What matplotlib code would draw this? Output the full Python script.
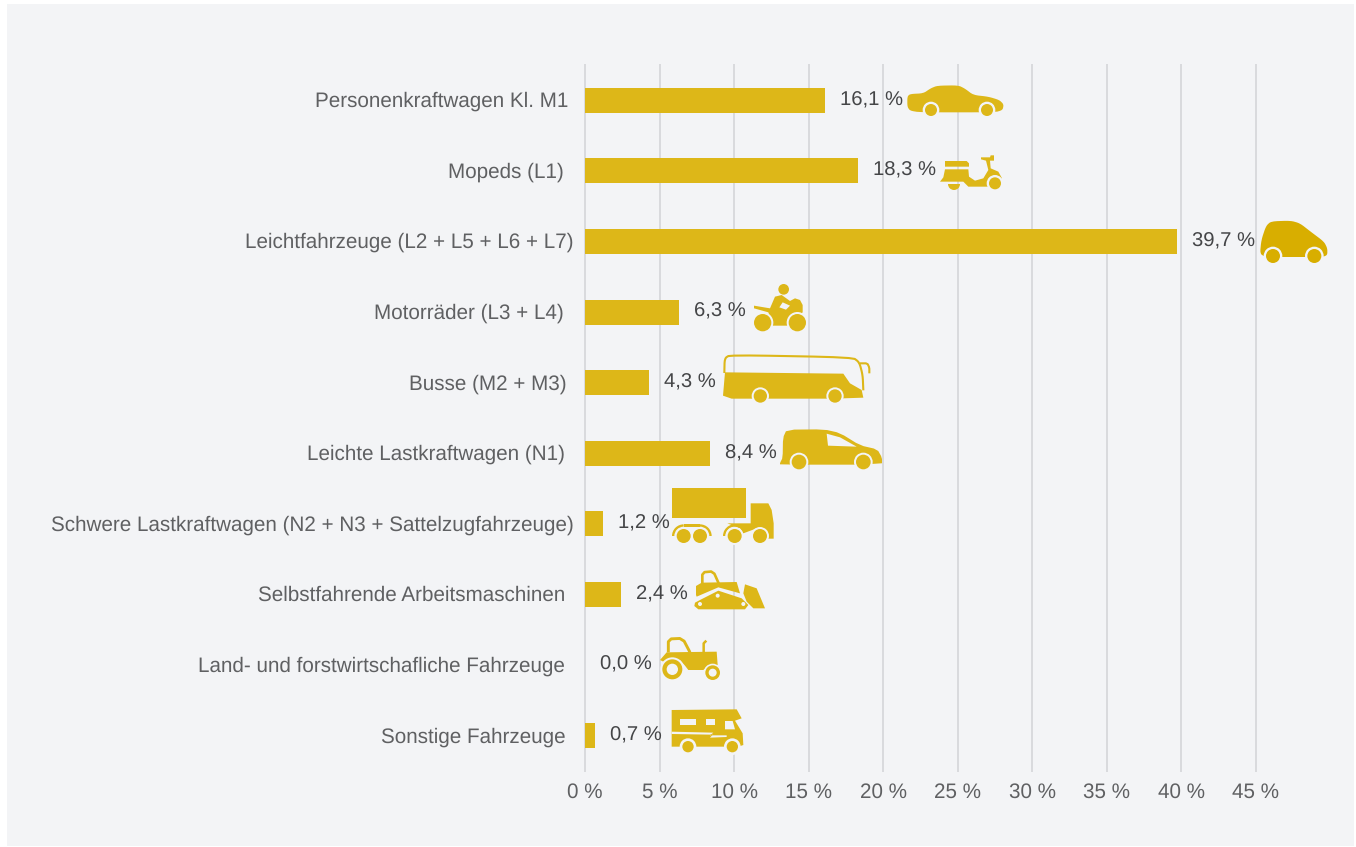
#!/usr/bin/env python3
"""Neuzulassungen: Anteil der Elektrofahrzeuge je Fahrzeugklasse, with vehicle icons."""

import matplotlib
matplotlib.use("Agg")
import matplotlib.pyplot as plt
from matplotlib.patches import Circle, Polygon, Rectangle, Wedge
from matplotlib.transforms import Affine2D

WIDTH, HEIGHT, DPI = 1356, 847, 100

CATEGORIES = [
    "Personenkraftwagen Kl. M1",
    "Mopeds (L1)",
    "Leichtfahrzeuge (L2 + L5 + L6 + L7)",
    "Motorräder (L3 + L4)",
    "Busse (M2 + M3)",
    "Leichte Lastkraftwagen (N1)",
    "Schwere Lastkraftwagen (N2 + N3 + Sattelzugfahrzeuge)",
    "Selbstfahrende Arbeitsmaschinen",
    "Land- und forstwirtschafliche Fahrzeuge",
    "Sonstige Fahrzeuge",
]
SHARES = [16.1, 18.3, 39.7, 6.3, 4.3, 8.4, 1.2, 2.4, 0.0, 0.7]
X_TICKS = [0, 5, 10, 15, 20, 25, 30, 35, 40, 45]
LABEL_GAPS_PX = [17, 21, 11, 21, 18, 20, 11, 20, 20, 19]

PANEL = "#F3F4F6"
GOLD = "#DDB718"
DARK_GOLD = "#D8AE00"
GRID = "#D9DADD"

plt.rcParams["font.family"] = ["Liberation Sans", "DejaVu Sans"]
plt.rcParams["text.hinting"] = "no_hinting"
FONT_PT = 14.85
VALUE_PT = 14.6


def px(v):
    return v * 72 / DPI


def rounded(pts, passes=2, closed=True):
    """Corner cutting, so the vehicle outlines do not look faceted."""
    for _ in range(passes):
        out = [] if closed else [pts[0]]
        count = len(pts) if closed else len(pts) - 1
        for i in range(count):
            x0, y0 = pts[i]
            x1, y1 = pts[(i + 1) % len(pts)]
            out.append((0.8 * x0 + 0.2 * x1, 0.8 * y0 + 0.2 * y1))
            out.append((0.2 * x0 + 0.8 * x1, 0.2 * y0 + 0.8 * y1))
        pts = out if closed else out + [pts[-1]]
    return pts


class Icon:
    """Draws shapes given in 3x crop coordinates relative to a screen origin."""

    def __init__(self, ax, ox, oy, color=GOLD):
        self.ax, self.ox, self.oy, self.color = ax, ox, oy, color

    def xy(self, x, y):
        return self.ox + x / 3, self.oy + y / 3

    def poly(self, pts, color=None, smooth=0):
        if smooth:
            pts = rounded(pts, smooth)
        self.ax.add_patch(Polygon([self.xy(*p) for p in pts], closed=True,
                                  fc=color or self.color, ec="none"))

    def line(self, pts, lw=1.5, smooth=0):
        if smooth:
            pts = rounded(pts, smooth, closed=False)
        xs, ys = zip(*[self.xy(*p) for p in pts])
        self.ax.plot(xs, ys, color=self.color, lw=lw, solid_capstyle="butt",
                     solid_joinstyle="round")

    def disc(self, x, y, r, color=None):
        self.ax.add_patch(Circle(self.xy(x, y), r / 3, fc=color or self.color, ec="none"))

    def wheel(self, x, y, r, ring):
        self.disc(x, y, ring, PANEL)
        self.disc(x, y, r)

    def half_wheel(self, x, y, r):
        self.ax.add_patch(Wedge(self.xy(x, y), r / 3, 0, 180, fc=self.color, ec="none"))

    def arc(self, x, y, r, width, t1, t2):
        # the overlay's y axis points down, so 180-270 is the upper left quarter
        self.ax.add_patch(Wedge(self.xy(x, y), r / 3, t1, t2, width=width / 3,
                                fc=self.color, ec="none"))


def draw_icons(ov):
    car = Icon(ov, 900, 70)
    car.poly([(22, 80), (30, 72), (70, 70), (92, 55), (112, 47), (175, 46), (195, 56),
              (220, 75), (265, 80), (298, 90), (311, 103), (308, 120), (285, 127),
              (60, 127), (30, 122), (22, 110)], smooth=2)
    car.wheel(93, 120, 18, 25)
    car.wheel(261, 120, 18, 25)

    moped = Icon(ov, 900, 70)
    moped.poly([(135, 273), (200, 273), (207, 280), (207, 290), (135, 290)])
    moped.poly([(135, 298), (205, 298), (207, 320), (225, 332), (250, 325), (265, 300),
                (258, 272), (243, 268), (243, 262), (270, 262), (272, 256), (282, 256),
                (282, 272), (270, 272), (272, 295), (295, 305), (306, 325), (265, 350),
                (205, 350), (190, 335), (120, 335), (130, 322)])
    moped.wheel(285, 340, 18, 25)
    moped.half_wheel(162, 342, 18)

    smart = Icon(ov, 900, 70, DARK_GOLD)
    smart.poly([(1080, 552), (1084, 510), (1098, 468), (1113, 454), (1172, 452), (1200, 460),
                (1232, 485), (1272, 515), (1282, 535), (1282, 555), (1268, 561), (1098, 561)],
               smooth=2)
    smart.wheel(1119, 558, 21, 28)
    smart.wheel(1243, 558, 21, 28)

    moto = Icon(ov, 700, 275)
    moto.disc(251, 43, 16)
    moto.poly([(162, 92), (210, 100), (225, 65), (245, 60), (270, 78), (285, 70), (300, 75),
               (308, 90), (308, 112), (262, 152), (218, 152), (205, 112), (162, 100)])
    moto.poly([(238, 97), (248, 82), (270, 92), (258, 104)], PANEL)
    moto.wheel(188, 143, 26, 32)
    moto.wheel(292, 143, 26, 32)

    bus = Icon(ov, 700, 275)
    bus.line([(73, 294), (74, 250), (90, 240), (458, 247), (478, 262), (488, 300), (490, 346)],
             smooth=2)
    bus.line([(480, 265), (502, 265), (508, 278), (508, 295)], smooth=1)
    bus.poly([(75, 292), (430, 296), (450, 325), (485, 345), (490, 368), (400, 371),
              (95, 371), (69, 362)])
    bus.wheel(181, 363, 20, 26)
    bus.wheel(405, 363, 20, 26)

    van = Icon(ov, 700, 275)
    van.poly([(240, 564), (248, 548), (249, 488), (260, 464), (372, 463), (420, 474),
              (480, 511), (532, 523), (546, 548), (546, 569), (240, 569)], smooth=1)
    van.poly([(380, 476), (420, 487), (470, 515), (384, 512)], PANEL)
    van.wheel(297, 561, 22, 28)
    van.wheel(490, 561, 22, 28)

    truck = Icon(ov, 650, 480)
    truck.poly([(67, 25), (288, 25), (288, 115), (67, 115)])
    truck.poly([(232, 130), (302, 130), (302, 70), (355, 70), (365, 90), (371, 130),
                (371, 176), (340, 176), (320, 145), (280, 160), (270, 145)])
    truck.arc(101, 168, 35, 7, 180, 270)
    truck.arc(150, 168, 35, 7, 270, 360)
    truck.poly([(101, 133), (150, 133), (150, 140), (101, 140)])
    truck.arc(254, 168, 35, 7, 180, 300)
    for x in (254, 330):
        truck.wheel(x, 168, 21, 27)
    for x in (101, 150):
        truck.disc(x, 168, 21)

    dozer = Icon(ov, 650, 480)
    dozer.line([(157, 312), (157, 277), (190, 274), (206, 310)], 1.9, smooth=1)
    dozer.poly([(138, 345), (138, 318), (155, 308), (260, 306), (270, 340), (205, 322), (140, 350)])
    dozer.poly([(150, 360), (205, 332), (275, 355), (295, 375), (285, 388), (145, 388),
                (133, 378), (135, 368)])
    for x, y in ((150, 372), (203, 347), (280, 372)):
        dozer.disc(x, y, 6, PANEL)
    dozer.poly([(285, 313), (320, 325), (345, 385), (310, 385), (290, 365), (280, 340)])

    tractor = Icon(ov, 560, 625)
    tractor.line([(325, 82), (325, 42), (368, 40), (390, 82)], 2.1, smooth=1)
    tractor.poly([(300, 105), (320, 82), (470, 80), (473, 120), (445, 122), (430, 135),
                  (385, 135), (375, 122), (360, 105), (330, 100), (310, 110)])
    tractor.line([(431, 82), (431, 55), (439, 47)], 1.8)
    tractor.wheel(337, 133, 30, 36)
    tractor.disc(337, 133, 17, PANEL)
    tractor.wheel(458, 143, 22, 27)
    tractor.disc(458, 143, 12, PANEL)

    camper = Icon(ov, 560, 625)
    camper.poly([(335, 255), (530, 253), (545, 280), (525, 287), (548, 325), (550, 360),
                 (535, 365), (335, 365)])
    camper.poly([(360, 283), (408, 283), (408, 301), (360, 301)], PANEL)
    camper.poly([(437, 283), (464, 283), (464, 301), (437, 301)], PANEL)
    camper.poly([(495, 288), (518, 288), (525, 313), (495, 313)], PANEL)
    camper.poly([(335, 320), (460, 323), (450, 331), (500, 331), (500, 336), (450, 338),
                 (458, 329), (335, 327)], PANEL)
    camper.wheel(384, 365, 17, 25)
    camper.wheel(517, 365, 17, 25)


def main():
    fig = plt.figure(figsize=(WIDTH / DPI, HEIGHT / DPI), dpi=DPI, facecolor="white")
    fig.patches.append(Rectangle((7 / WIDTH, 1 - 846 / HEIGHT), 1347 / WIDTH, 842 / HEIGHT,
                                 transform=fig.transFigure, fc=PANEL, ec="none", zorder=-1))

    ax = fig.add_axes([585 / WIDTH, 1 - 771 / HEIGHT, 745.5 / WIDTH, 706 / HEIGHT])
    ax.patch.set_alpha(0)
    y_pos = list(range(len(CATEGORIES)))
    ax.barh(y_pos, SHARES, height=0.355, color=GOLD, zorder=3)
    ax.set_xlim(0, 50)
    ax.set_ylim(len(CATEGORIES) - 0.5, -0.5)

    ax.set_xticks(X_TICKS, [f"{t} %" for t in X_TICKS])
    ax.set_yticks(y_pos, CATEGORIES)
    ax.tick_params(axis="both", length=0, labelsize=FONT_PT, labelcolor="#5F6062")
    ax.tick_params(axis="x", pad=px(11.5))
    ax.grid(axis="x", color=GRID, lw=px(2), zorder=1, clip_on=False)
    ax.set_axisbelow(True)
    for spine in ax.spines.values():
        spine.set_visible(False)
    for tick, gap in zip(ax.yaxis.get_major_ticks(), LABEL_GAPS_PX):
        tick.set_pad(px(gap))
        tick.label1.set_transform(tick.label1.get_transform() + Affine2D().translate(0, 1))

    for y, share in zip(y_pos, SHARES):
        ax.annotate(f"{share:.1f} %".replace(".", ","), xy=(share, y),
                    xytext=(15, 0.5), textcoords="offset pixels",
                    ha="left", va="center", fontsize=VALUE_PT, color="#444547", zorder=4)

    # icons live in a screen-pixel overlay
    ov = fig.add_axes([0, 0, 1, 1], facecolor="none", zorder=5)
    ov.set_xlim(0, WIDTH)
    ov.set_ylim(HEIGHT, 0)
    ov.axis("off")
    draw_icons(ov)

    fig.savefig("out.png", dpi=DPI)


if __name__ == "__main__":
    main()
